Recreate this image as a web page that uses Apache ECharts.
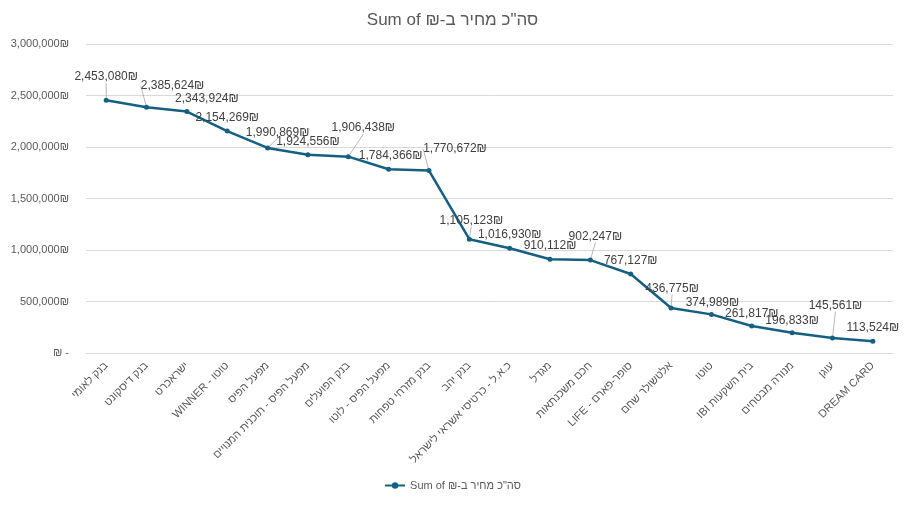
<!DOCTYPE html>
<html>
<head>
<meta charset="utf-8">
<script src="https://cdn.jsdelivr.net/npm/echarts@6/dist/echarts.min.js"></script>
<style>
html,body{margin:0;padding:0;background:#fff;}
#chart{width:905px;height:505px;}
</style>
</head>
<body>
<div id="chart"></div>
<script>
var categories = [
  'בנק לאומי',
  'בנק דיסקונט',
  'ישראכרט',
  'טוטו - WINNER',
  'מפעל הפיס',
  'מפעל הפיס - תוכנית המנויים',
  'בנק הפועלים',
  'מפעל הפיס - לוטו',
  'בנק מזרחי טפחות',
  'בנק יהב',
  'כ.א.ל - כרטיסי אשראי לישראל',
  'מגדל',
  'חכם משכנתאות',
  'סופר-פארם - LIFE',
  'אלטשולר שחם',
  'טוטו',
  'בית השקעות IBI',
  'מנורה מבטחים',
  'עוגן',
  'DREAM CARD'
];
var values = [
  2453080, 2385624, 2343924, 2154269, 1990869,
  1924556, 1906438, 1784366, 1770672, 1105123,
  1016930, 910112, 902247, 767127, 436775,
  374989, 261817, 196833, 145561, 113524
];
var yTickLabels = ['₪ -', '500,000₪', '1,000,000₪', '1,500,000₪', '2,000,000₪', '2,500,000₪', '3,000,000₪'];
var fieldName = 'סה"כ מחיר ב-₪';
var seriesName = 'Sum of \u202B' + fieldName + '\u202C';

// label nudges (styling only, in pixels)
var nudgeX = [0, 26, 20, 0, 10, 0, 15, 2, 26, 2, 0, 0, 5, 0, 1, 1, 0, 0, 3, 0];
var nudgeY = [-10, -8, 1, 0, -2, 0, -15, 0, -8, -5, 0, 0, -10, 0, -6, 2, 1, 1, -19, 0];
var leader = [1, 1, 0, 0, 1, 0, 1, 0, 1, 1, 0, 0, 1, 0, 1, 0, 0, 0, 1, 0];

var FONT = '"Liberation Sans", "DejaVu Sans", sans-serif';
var seriesData = values.map(function (v, i) {
  return {
    value: v,
    labelLine: { show: !!leader[i], lineStyle: { color: '#A6A6A6', width: 0.8 } }
  };
});

var chart = echarts.init(document.getElementById('chart'), null, { renderer: 'canvas' });
chart.setOption({
  backgroundColor: '#ffffff',
  animation: false,
  title: {
    text: seriesName,
    left: 'center',
    top: 7,
    textStyle: { fontFamily: FONT, fontSize: 17, fontWeight: 'normal', color: '#595959' }
  },
  legend: {
    bottom: 9,
    left: 'center',
    itemWidth: 20,
    itemHeight: 8,
    itemGap: 10,
    textStyle: { fontFamily: FONT, fontSize: 11, color: '#595959' },
    data: [seriesName]
  },
  grid: { left: 86, right: 12, top: 44, bottom: 152, containLabel: false },
  xAxis: {
    type: 'category',
    data: categories,
    boundaryGap: true,
    axisLine: { show: true, lineStyle: { color: '#D9D9D9', width: 1 } },
    axisTick: { show: false },
    axisLabel: {
      interval: 0,
      rotate: 45,
      margin: 11,
      fontFamily: FONT,
      fontSize: 11,
      color: '#595959',
      formatter: function (s) { return '\u202B' + s + '\u202C'; }
    }
  },
  yAxis: {
    type: 'value',
    min: 0,
    max: 3000000,
    interval: 500000,
    axisLine: { show: false },
    axisTick: { show: false },
    splitLine: { lineStyle: { color: '#D9D9D9', width: 1 } },
    axisLabel: {
      margin: 17,
      fontFamily: FONT,
      fontSize: 11,
      color: '#595959',
      formatter: function (v) { return yTickLabels[Math.round(v / 500000)]; }
    }
  },
  series: [{
    name: seriesName,
    type: 'line',
    data: seriesData,
    symbol: 'circle',
    symbolSize: 5,
    showAllSymbol: true,
    itemStyle: { color: '#156082' },
    lineStyle: { color: '#156082', width: 2.5 },
    label: {
      show: true,
      position: 'top',
      distance: 5,
      fontFamily: FONT,
      fontSize: 12,
      color: '#404040',
      formatter: function (p) { return p.value.toLocaleString('en-US') + '₪'; }
    },
    labelLine: { show: false },
    labelLayout: function (p) {
      return { dx: nudgeX[p.dataIndex], dy: nudgeY[p.dataIndex] };
    }
  }]
});
</script>
</body>
</html>
